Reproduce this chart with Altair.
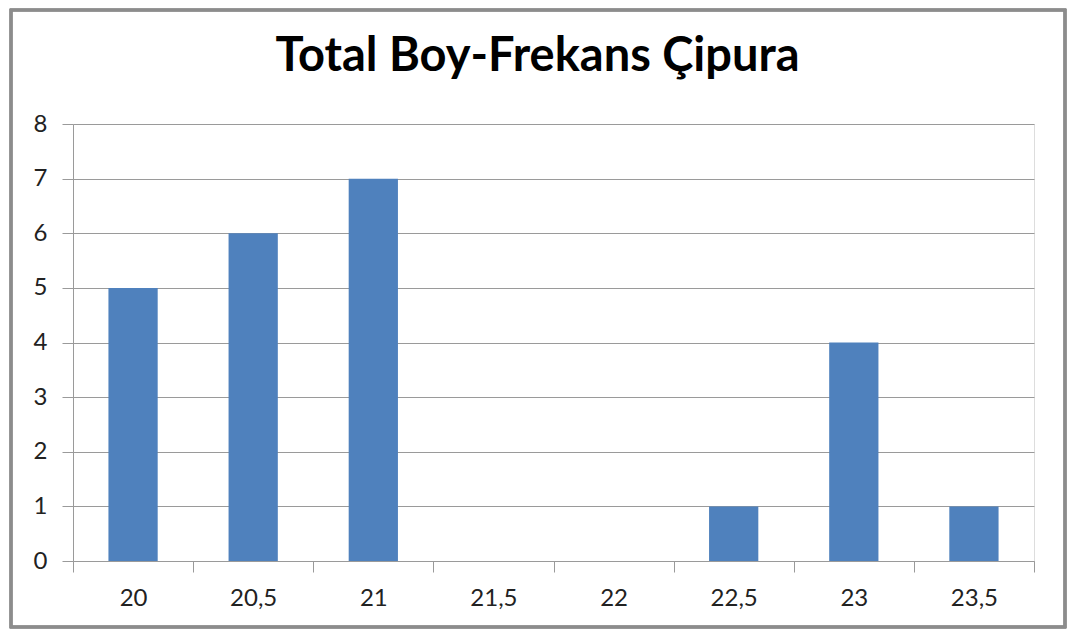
import altair as alt
import pandas as pd

categories = ["20", "20,5", "21", "21,5", "22", "22,5", "23", "23,5"]
counts = [5, 6, 7, 0, 0, 1, 4, 1]
title_text = "Total Boy-Frekans Çipura"

df = pd.DataFrame({"boy": categories, "frekans": counts})

FONT = "Lato"
GRID = "#9a9a9a"

bars = alt.Chart(df).mark_bar(color="#4F81BD", width=alt.RelativeBandSize(0.41)).encode(
    x=alt.X(
        "boy:N",
        sort=categories,
        title=None,
        scale=alt.Scale(paddingInner=0, paddingOuter=0),
        axis=alt.Axis(
            labelAngle=0,
            labelFont=FONT,
            labelFontSize=24,
            labelColor="#222222",
            labelPadding=14,
            tickBand="extent",
            tickSize=11,
            tickColor=GRID,
            domainColor=GRID,
            grid=False,
        ),
    ),
    y=alt.Y(
        "frekans:Q",
        title=None,
        scale=alt.Scale(domain=[0, 8], nice=False),
        axis=alt.Axis(
            values=list(range(0, 9)),
            labelFont=FONT,
            labelFontSize=24,
            labelColor="#222222",
            labelPadding=15,
            tickSize=11,
            tickColor=GRID,
            domainColor=GRID,
            gridColor=GRID,
            gridWidth=1,
        ),
    ),
)

frame = alt.Chart(df).mark_rect(fill=None, stroke="#8c8c8c", strokeWidth=2.5).encode(
    x=alt.value(-62), x2=alt.value(992), y=alt.value(-114), y2=alt.value(503)
)

chart = alt.layer(bars, frame).properties(
    width=961,
    height=437,
    padding={"left": 65, "top": 116, "right": 38, "bottom": 68},
    autosize=alt.AutoSizeParams(type="none"),
    title=alt.TitleParams(
        title_text,
        font=FONT,
        fontSize=47,
        fontWeight="bold",
        color="#000000",
        anchor="middle",
        frame="group",
        baseline="alphabetic",
        offset=-109,
        dx=-16,
    ),
).configure_view(stroke=None).configure(background="white")

chart.save("out.html", embed_options={"renderer": "svg", "actions": False})
